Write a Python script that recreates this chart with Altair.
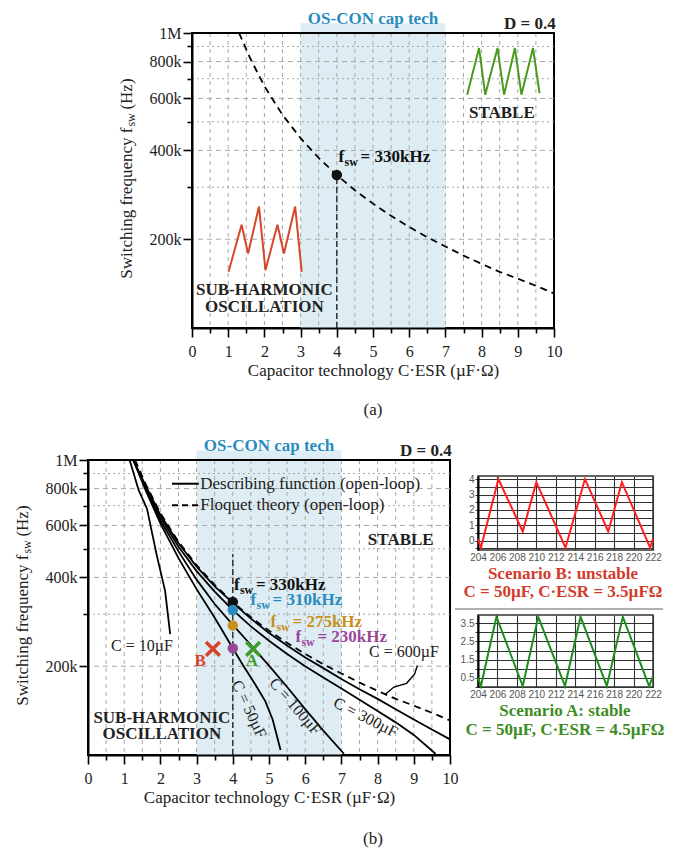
import altair as alt
import pandas as pd

SERIF = "Liberation Serif"
SANS = "Liberation Sans"

# ---------------- axes / ticks ----------------
X_DOMAIN = [0, 10]
Y_DOMAIN = [100000, 1000000]
x_tick_values = [0, 0.5, 1, 1.5, 2, 2.5, 3, 3.5, 4, 4.5, 5, 5.5, 6, 6.5, 7, 7.5, 8, 8.5, 9, 9.5, 10]
x_grid_values = [0.5, 1, 1.5, 2, 2.5, 3, 3.5, 4, 4.5, 5, 5.5, 6, 6.5, 7, 7.5, 8, 8.5, 9, 9.5]
y_label_values = [200000, 400000, 600000, 800000, 1000000]
y_label_texts = ["200k", "400k", "600k", "800k", "1M"]
y_minor_values = [300000, 500000, 700000, 900000]
y_grid_major = [200000, 400000, 600000, 800000]
band_x = [3, 7]
band_top = 1080000

# ---------------- panel (a) ----------------
floq_x = [1.3, 1.6, 2.0, 2.5, 3.0, 3.5, 4.0, 4.5, 5.0, 5.5, 6.0, 6.5, 7.0, 7.5, 8.0, 8.5, 9.0, 9.5, 10.0]
floq_khz = [1000, 825, 660, 528, 440, 377, 330, 293, 264, 240, 220, 203, 189, 176, 165, 155, 147, 139, 131]
sub_x = [1.01, 1.37, 1.55, 1.85, 2.03, 2.36, 2.54, 2.85, 3.03]
sub_khz = [155, 224, 179, 258, 157, 224, 179, 258, 155]
stab_x = [7.6, 7.93, 8.1, 8.44, 8.62, 8.92, 9.1, 9.42, 9.6]
stab_khz = [618, 889, 618, 889, 618, 889, 618, 889, 625]

# ---------------- panel (b) ----------------
c10_x = [1.15, 1.4, 1.63, 1.9, 2.13, 2.27]
c10_khz = [1000, 790, 684, 475, 360, 257]
c50_x = [1.25, 1.6, 2.0, 2.5, 3.0, 3.5, 4.0, 4.3, 4.6, 4.9, 5.1, 5.32]
c50_khz = [1000, 785, 610, 465, 365, 292, 230, 200, 175, 152, 132, 104]
c100_x = [1.25, 1.6, 2.0, 2.5, 3.0, 3.5, 4.0, 4.5, 5.0, 5.5, 6.0, 6.5, 7.07]
c100_khz = [1000, 795, 625, 490, 393, 325, 276, 236, 201, 170, 143, 121, 101]
c300_x = [1.25, 1.6, 2.0, 2.5, 3.0, 3.5, 4.0, 4.5, 5.0, 5.5, 6.0, 6.5, 7.0, 7.5, 8.0, 8.5, 9.0, 9.6]
c300_khz = [1000, 805, 640, 508, 420, 358, 310, 273, 244, 220, 200, 183, 168, 154, 141, 129, 117, 101]
c600_x = [1.25, 1.6, 2.0, 2.5, 3.0, 3.5, 4.0, 4.5, 5.0, 5.5, 6.0, 6.5, 7.0, 7.5, 8.0, 8.5, 9.0, 9.5, 10.0]
c600_khz = [1000, 815, 652, 522, 435, 373, 328, 290, 259, 235, 214, 197, 181, 167, 155, 143, 132, 122, 113]

dot_khz = [330, 310, 275, 230]
dot_colors = ["#111111", "#2a8bbf", "#c8901e", "#9a479a"]
dot_label_x = [4.03, 4.49, 5.04, 5.73]
dot_label_khz = [377, 335, 282, 251]
dot_label_texts = ["= 330kHz", "= 310kHz", "= 275kHz", "= 230kHz"]

cross_x = [3.45, 4.56]
cross_khz = [229, 229]
cross_colors = ["#d8432b", "#3f9a2a"]
cross_label_x = [3.1, 4.53]
cross_label_khz = [209, 208]
cross_labels = ["B", "A"]

c_label_texts = ["C = 50µF", "C = 100µF", "C = 300µF"]
c_label_x = [4.45, 5.72, 7.67]
c_label_khz = [143, 146, 134]
c_label_angle = [65, 49, 27]

arrow_x = [9.1, 9.02, 8.8, 8.45, 8.2]
arrow_khz = [201, 188, 175, 170, 160]

# ---------------- scenario waveforms ----------------
sb_x = [204.0, 204.3, 206.1, 208.6, 210.0, 213.0, 215.0, 217.4, 218.8, 221.7, 222.0]
sb_y = [0.1, -0.45, 4.0, 0.6, 3.8, -0.45, 4.0, 0.6, 3.8, -0.45, 0.15]
sa_x = [204.0, 204.3, 205.9, 208.6, 210.2, 212.95, 214.55, 217.25, 218.9, 221.6, 222.0]
sa_y = [0.5, 0.05, 3.85, 0.05, 3.85, 0.05, 3.85, 0.05, 3.85, 0.05, 0.6]
s_x_ticks = [204, 206, 208, 210, 212, 214, 216, 218, 220, 222]
sb_y_ticks = [-0.5, 0, 0.5, 1, 1.5, 2, 2.5, 3, 3.5, 4]
sa_y_ticks = [0, 0.5, 1, 1.5, 2, 2.5, 3, 3.5]

BLUE = "#2a8bbf"
RED_T = "#d23c2c"
GREEN_T = "#3d8c24"

xs = alt.Scale(domain=X_DOMAIN, nice=False, zero=False)
ys = alt.Scale(type="log", domain=Y_DOMAIN, nice=False)

y_label_expr = " : ".join(f"datum.value === {v} ? '{t}'" for v, t in zip(y_label_values, y_label_texts)) + " : ''"
y_minor_test = "indexof([" + ",".join(str(v) for v in y_minor_values) + "], datum.value) >= 0"

X_AXIS = alt.Axis(
    values=x_tick_values,
    labelExpr="datum.value % 1 === 0 ? format(datum.value, 'd') : ''",
    title="Capacitor technology C·ESR (µF·Ω)",
    titleFont=SERIF, titleFontSize=17, titleFontWeight="normal", titleColor="#222",
    titlePadding=3,
    labelFont=SERIF, labelFontSize=16, labelColor="#222", labelPadding=6,
    labelOverlap=False, labelFlush=False,
    tickColor="black", tickWidth=1.6,
    tickSize={"condition": {"test": "datum.value % 1 !== 0", "value": 5}, "value": 9},
    domainColor="black", domainWidth=2, grid=False, zindex=1)

Y_AXIS = alt.Axis(
    values=sorted(y_label_values + y_minor_values),
    labelExpr=y_label_expr, title="",
    labelFont=SERIF, labelFontSize=16, labelColor="#222", labelPadding=2,
    labelOverlap=False, labelFlush=False,
    tickColor="black", tickWidth=1.6,
    tickSize={"condition": {"test": y_minor_test, "value": 5}, "value": 9},
    domainColor="black", domainWidth=2, grid=False, zindex=1)


def XQ(field="x"):
    return alt.X(f"{field}:Q", scale=xs, axis=X_AXIS)


def YQ(field="y"):
    return alt.Y(f"{field}:Q", scale=ys, axis=Y_AXIS)


def curve(xv, khz, color="black", dash=None, width=1.8):
    df = pd.DataFrame({"x": xv, "y": [k * 1000 for k in khz], "i": list(range(len(xv)))})
    kw = dict(color=color, strokeWidth=width)
    if dash:
        kw["strokeDash"] = dash
    return alt.Chart(df).mark_line(**kw).encode(x=XQ(), y=YQ(), order="i:Q")


def text(df, **kw):
    base = dict(font=SERIF, baseline="middle")
    base.update(kw)
    enc = dict(x=XQ(), y=YQ())
    if "t" in df.columns:
        enc["text"] = "t:N"
    if "c" in df.columns:
        enc["color"] = alt.Color("c:N", scale=None)
    return alt.Chart(df).mark_text(**base).encode(**enc)


def common_layers(title_x=-1.8):
    band_df = pd.DataFrame({"x": [band_x[0]], "x2": [band_x[1]], "y": [Y_DOMAIN[0]], "y2": [band_top]})
    band = alt.Chart(band_df).mark_rect(color="#deedf3").encode(x=XQ(), x2="x2", y=YQ(), y2="y2")
    vgrid = alt.Chart(pd.DataFrame({"x": x_grid_values})).mark_rule(
        color="#a8a8a8", strokeDash=[4, 4], strokeWidth=1).encode(x=XQ())
    hmaj = alt.Chart(pd.DataFrame({"y": y_grid_major})).mark_rule(
        color="#a8a8a8", strokeDash=[5, 4], strokeWidth=1).encode(y=YQ())
    hmin = alt.Chart(pd.DataFrame({"y": y_minor_values})).mark_rule(
        color="#a8a8a8", strokeDash=[2, 3], strokeWidth=1).encode(y=YQ())
    top = alt.Chart(pd.DataFrame({"y": [Y_DOMAIN[1]]})).mark_rule(
        color="black", strokeWidth=2).encode(y=YQ())
    ypos = pd.DataFrame({"x": [title_x], "y": [316000]})
    yt1 = text(ypos, text="Switching frequency f", angle=270, align="right", dx=53, fontSize=17, color="#222")
    yt2 = text(ypos, text="sw", angle=270, align="left", dx=54, dy=4, fontSize=12, color="#222")
    yt3 = text(ypos, text="(Hz)", angle=270, align="left", dx=71, fontSize=17, color="#222")
    head = pd.DataFrame({"x": [5.0], "y": [1116000]})
    osc = text(head, text="OS-CON cap tech", fontSize=17, fontWeight="bold", color=BLUE, align="center")
    dd = text(pd.DataFrame({"x": [10.05], "y": [1073000]}), text="D = 0.4", fontSize=17,
              fontWeight="bold", color="#222", align="right")
    return [band, vgrid, hmaj, hmin], [top, yt1, yt2, yt3, osc, dd]


def fsw_label(df, size=17):
    l1 = text(df[["x", "y", "c"]], text="f", align="left", fontSize=size, fontWeight="bold")
    l2 = text(df[["x", "y", "c"]], text="sw", align="left", dx=6, dy=5, fontSize=12, fontWeight="bold")
    l3 = text(df, align="left", dx=22, fontSize=size, fontWeight="bold")
    return [l1, l2, l3]


# ---------------- Panel (a) ----------------
back_a, front_a = common_layers()
layers_a = list(back_a)
layers_a.append(alt.Chart(pd.DataFrame({"x": [4], "y": [Y_DOMAIN[0]], "y2": [dot_khz[0] * 1000]})).mark_rule(
    color="#333", strokeDash=[6, 3], strokeWidth=1.5).encode(x=XQ(), y=YQ(), y2="y2"))
layers_a.append(curve(floq_x, floq_khz, dash=[7, 5], width=1.8))
layers_a.append(curve(sub_x, sub_khz, color="#d9472b", width=2))
layers_a.append(curve(stab_x, stab_khz, color="#4a9a1e", width=2))
layers_a.append(alt.Chart(pd.DataFrame({"x": [4], "y": [dot_khz[0] * 1000]})).mark_circle(
    size=110, color="#111", opacity=1).encode(x=XQ(), y=YQ()))
layers_a += fsw_label(pd.DataFrame({"x": [4.05], "y": [380000], "t": [dot_label_texts[0]], "c": ["#111111"]}))
layers_a.append(text(pd.DataFrame({"x": [8.56], "y": [535000], "t": ["STABLE"]}), fontSize=17,
                     fontWeight="bold", color="#222", align="center"))
layers_a.append(text(pd.DataFrame({"x": [2.0, 2.0], "y": [135000, 118000], "t": ["SUB-HARMONIC", "OSCILLATION"]}),
                     fontSize=17, fontWeight="bold", color="#222", align="center"))
layers_a.append(text(pd.DataFrame({"x": [5.0], "y": [52700], "t": ["(a)"]}), fontSize=17, color="#222",
                     align="center"))
layers_a += front_a
panel_a = alt.layer(*layers_a).properties(
    width=362, height=295, view=alt.ViewBackground(stroke="black", strokeWidth=2))

# ---------------- Panel (b) ----------------
back_b, front_b = common_layers()
layers_b = list(back_b)
layers_b.append(alt.Chart(pd.DataFrame({"x": [4], "y": [Y_DOMAIN[0]], "y2": [480000]})).mark_rule(
    color="#333", strokeDash=[6, 3], strokeWidth=1.5).encode(x=XQ(), y=YQ(), y2="y2"))
for cx, ck in [(c10_x, c10_khz), (c50_x, c50_khz), (c100_x, c100_khz), (c300_x, c300_khz), (c600_x, c600_khz)]:
    layers_b.append(curve(cx, ck, width=1.8))
layers_b.append(curve(floq_x, floq_khz, dash=[7, 5], width=1.8))
layers_b.append(curve(arrow_x, arrow_khz, width=1.4))
# legend
leg = pd.DataFrame({"x": [2.32, 2.32], "x2": [3.06, 3.06], "y": [831000, 702000]})
layers_b.append(alt.Chart(leg.iloc[[0]]).mark_rule(color="black", strokeWidth=2).encode(x=XQ(), x2="x2", y=YQ()))
layers_b.append(alt.Chart(leg.iloc[[1]]).mark_rule(color="black", strokeWidth=2, strokeDash=[6, 4]).encode(
    x=XQ(), x2="x2", y=YQ()))
layers_b.append(text(pd.DataFrame({"x": [3.1, 3.1], "y": [831000, 702000],
                                   "t": ["Describing function (open-loop)", "Floquet theory (open-loop)"]}),
                     fontSize=17, color="#222", align="left"))
# dots
dots = pd.DataFrame({"x": [4, 4, 4, 4], "y": [k * 1000 for k in dot_khz], "c": dot_colors})
layers_b.append(alt.Chart(dots).mark_circle(size=110, opacity=1).encode(
    x=XQ(), y=YQ(), color=alt.Color("c:N", scale=None)))
layers_b += fsw_label(pd.DataFrame({"x": dot_label_x, "y": [k * 1000 for k in dot_label_khz],
                                    "t": dot_label_texts, "c": dot_colors}))
# crosses
crosses = pd.DataFrame({"x": cross_x, "y": [k * 1000 for k in cross_khz], "c": cross_colors})
layers_b.append(alt.Chart(crosses).mark_point(shape="M-1,-1L1,1M1,-1L-1,1", size=190, strokeWidth=3.5,
                                             filled=False, opacity=1).encode(
    x=XQ(), y=YQ(), color=alt.Color("c:N", scale=None)))
layers_b.append(text(pd.DataFrame({"x": cross_label_x, "y": [k * 1000 for k in cross_label_khz],
                                   "t": cross_labels, "c": cross_colors}),
                     fontSize=17, fontWeight="bold", align="center"))
# curve labels
for t, cx, ck, ang in zip(c_label_texts, c_label_x, c_label_khz, c_label_angle):
    layers_b.append(text(pd.DataFrame({"x": [cx], "y": [ck * 1000], "t": [t]}), fontSize=16, color="#222",
                         align="center", angle=ang))
layers_b.append(text(pd.DataFrame({"x": [1.49, 8.73], "y": [235000, 223000], "t": ["C = 10µF", "C = 600µF"]}),
                     fontSize=16, color="#222", align="center"))
layers_b.append(text(pd.DataFrame({"x": [8.64], "y": [534000], "t": ["STABLE"]}), fontSize=17,
                     fontWeight="bold", color="#222", align="center"))
layers_b.append(text(pd.DataFrame({"x": [2.04, 2.04], "y": [134000, 118000], "t": ["SUB-HARMONIC", "OSCILLATION"]}),
                     fontSize=17, fontWeight="bold", color="#222", align="center"))
layers_b.append(text(pd.DataFrame({"x": [7.87], "y": [51800], "t": ["(b)"]}), fontSize=17, color="#222",
                     align="center"))
layers_b += front_b
panel_b = alt.layer(*layers_b).properties(
    width=362, height=295, view=alt.ViewBackground(stroke="black", strokeWidth=2))


# ---------------- scenario charts ----------------
def small_chart(xv, yv, ydom, yticks, ylabel_expr, line_color, height, captions, cap_color, cap_x, cap_y,
                sep=None):
    sx = alt.Scale(domain=[204, 222], nice=False, zero=False)
    sy = alt.Scale(domain=ydom, nice=False, zero=False)
    xa = alt.Axis(values=s_x_ticks, format="d", title="", labelFont=SANS, labelFontSize=10, labelColor="#555",
                  labelPadding=2, tickSize=0, labelOverlap=False, labelFlush=False, domain=False,
                  grid=True, gridColor="#333", gridWidth=1.1)
    ya = alt.Axis(values=yticks, labelExpr=ylabel_expr, title="", labelFont=SANS, labelFontSize=10,
                  labelColor="#555", labelPadding=1, tickSize=3, tickColor="#333", labelOverlap=False,
                  labelFlush=False, domainColor="black", domainWidth=2, grid=True, gridColor="#333",
                  gridWidth=1.1)
    X = alt.X("x:Q", scale=sx, axis=xa)
    Y = alt.Y("y:Q", scale=sy, axis=ya)
    df = pd.DataFrame({"x": xv, "y": yv, "i": list(range(len(xv)))})
    line = alt.Chart(df).mark_line(color=line_color, strokeWidth=2).encode(x=X, y=Y, order="i:Q")
    cap = alt.Chart(pd.DataFrame({"x": [cap_x, cap_x], "y": cap_y, "t": captions})).mark_text(
        font=SERIF, fontSize=17, fontWeight="bold", color=cap_color, baseline="middle", align="center").encode(
        x=X, y=Y, text="t:N")
    layers = [line, cap]
    if sep:
        layers.append(alt.Chart(pd.DataFrame({"x": [sep[0]], "x2": [sep[1]], "y": [sep[2]]})).mark_rule(
            color="#b0b0b0", strokeWidth=2).encode(x=X, x2="x2", y=Y))
    return alt.layer(*layers).properties(width=175, height=height,
                                         view=alt.ViewBackground(stroke="#333", strokeWidth=1.5))


chart_B = small_chart(sb_x, sb_y, [-0.6, 4.2], sb_y_ticks,
                      "datum.value % 1 === 0 ? format(datum.value, 'd') : ''", "#ff1f1f", 74,
                      ["Scenario B: unstable", "C = 50µF, C·ESR = 3.5µFΩ"], RED_T, 212.74, [-2.16, -3.32])
chart_A = small_chart(sa_x, sa_y, [0, 3.95], sa_y_ticks,
                      "datum.value % 1 === 0.5 ? format(datum.value, '.1f') : ''", "#1e8c1e", 72,
                      ["Scenario A: stable", "C = 50µF, C·ESR = 4.5µFΩ"], GREEN_T, 212.95, [-1.32, -2.36],
                      sep=[201.63, 223.03, 4.28])


def spacer(w, h):
    return alt.Chart(pd.DataFrame({"v": [0]})).mark_point(opacity=0).encode(
        x=alt.value(0), y=alt.value(0)).properties(width=w, height=h)


# With bounds="flush", nested concat groups count as zero size, so spacing carries their size.
row1 = alt.hconcat(spacer(94, 295), panel_a, spacing=10, bounds="flush")
right_col = alt.vconcat(alt.vconcat(spacer(175, 16), chart_B, spacing=0, bounds="flush"), chart_A,
                        spacing=155, bounds="flush")
row2 = alt.hconcat(panel_b, right_col, spacing=28, bounds="flush")
chart = alt.vconcat(row1, row2, spacing=427, bounds="flush").properties(
    padding={"left": 4, "top": 0, "right": 0, "bottom": 0}
).configure_view(stroke="transparent")

chart.save("out.html", embed_options={"renderer": "svg", "actions": False})
